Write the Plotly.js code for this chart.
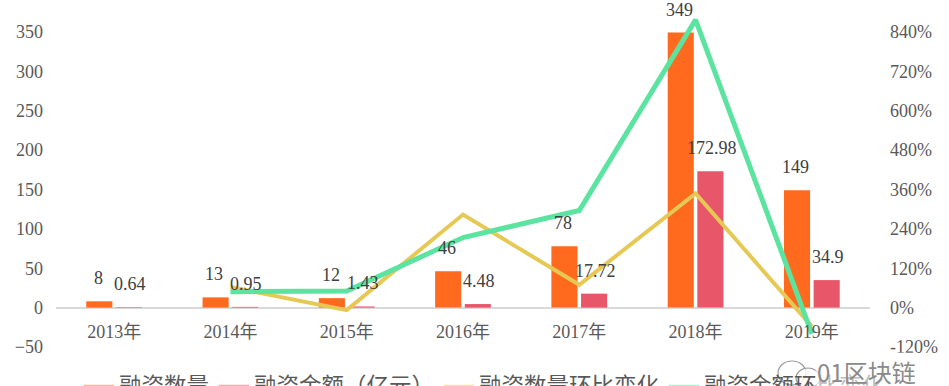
<!DOCTYPE html>
<html>
<head>
<meta charset="utf-8">
<script src="https://cdn.plot.ly/plotly-3.0.1.min.js"></script>
<style>html,body{margin:0;padding:0;background:#fff;}#chart{width:949px;height:386px;}</style>
</head>
<body>
<div id="chart"></div>
<script>
const years = ['2013年','2014年','2015年','2016年','2017年','2018年','2019年'];
const dealCount = [8, 13, 12, 46, 78, 349, 149];
const dealAmount = [0.64, 0.95, 1.43, 4.48, 17.72, 172.98, 34.9];
const changeYears = ['2014年','2015年','2016年','2017年','2018年','2019年'];
const countChange = [62.5, -7.69, 283.33, 69.57, 347.44, -57.31];
const amountChange = [48.44, 50.53, 213.29, 295.54, 876.19, -79.82];
const leftTicks = [-50, 0, 50, 100, 150, 200, 250, 300, 350];
const rightTicks = [-120, 0, 120, 240, 360, 480, 600, 720, 840];
const rightTickText = ['-120%', '0%', '120%', '240%', '360%', '480%', '600%', '720%', '840%'];

const names = ['融资数量', '融资金额（亿元）', '融资数量环比变化', '融资金额环比变化'];
const colors = ['#FF6A1E', '#E8566A', '#E6C955', '#5BE3A0'];
const FONT = '"Liberation Serif", "DejaVu Serif", "Noto Sans CJK SC", serif';
const CJK = '"Noto Sans CJK SC", sans-serif';

const W = 949, H = 386, ML = 56, MR = 79, MT = 0, MB = 39;
const plotW = W - ML - MR, plotH = H - MT - MB;
const px = x => (x - ML) / plotW;
const py = y => (H - MB - y) / plotH;

const traces = [
  {type: 'bar', x: years, y: dealCount, name: names[0], marker: {color: colors[0]}, showlegend: false},
  {type: 'bar', x: years, y: dealAmount, name: names[1], marker: {color: colors[1]}, showlegend: false},
  {type: 'scatter', mode: 'lines', x: changeYears, y: countChange, name: names[2], yaxis: 'y2',
   line: {color: colors[2], width: 4}, showlegend: false},
  {type: 'scatter', mode: 'lines', x: changeYears, y: amountChange, name: names[3], yaxis: 'y2',
   line: {color: colors[3], width: 5}, showlegend: false}
];
// legend entries (line style as in the reference)
names.forEach((n, i) => traces.push({type: 'scatter', mode: 'lines', x: [null], y: [null], name: n,
  line: {color: colors[i], width: 2}, opacity: 0.5, showlegend: true, legendrank: i + 1}));

const annotations = [];
years.forEach((yr, i) => {
  annotations.push({x: yr, y: dealCount[i], xref: 'x', yref: 'y', text: String(dealCount[i]),
    showarrow: false, yanchor: 'bottom', xshift: -16, yshift: 11,
    font: {family: FONT, size: 18, color: '#404040'}});
  annotations.push({x: yr, y: dealAmount[i], xref: 'x', yref: 'y', text: String(dealAmount[i]),
    showarrow: false, yanchor: 'bottom', xshift: 16, yshift: 11,
    font: {family: FONT, size: 18, color: '#404040'}});
});
annotations.push({xref: 'paper', yref: 'paper', x: px(918), y: py(371), text: '01区块链',
  showarrow: false, xanchor: 'right', yanchor: 'middle', bgcolor: 'rgba(255,255,255,0.6)',
  font: {family: CJK, size: 24, color: '#8a8a8a'}});

const shapes = [
  {type: 'circle', xref: 'paper', yref: 'paper', x0: px(778), x1: px(806), y0: py(385), y1: py(361),
   line: {color: '#9a9a9a', width: 1.2}, fillcolor: 'rgba(255,255,255,0.8)', layer: 'above'},
  {type: 'circle', xref: 'paper', yref: 'paper', x0: px(796), x1: px(820), y0: py(388), y1: py(368),
   line: {color: '#9a9a9a', width: 1.2}, fillcolor: 'rgba(255,255,255,0.8)', layer: 'above'}
];

const layout = {
  width: W, height: H,
  margin: {l: ML, r: MR, t: MT, b: MB, autoexpand: false},
  paper_bgcolor: '#fff', plot_bgcolor: '#fff',
  barmode: 'group', bargap: 0.49, bargroupgap: 0.12,
  font: {family: FONT, size: 18, color: '#595959'},
  xaxis: {type: 'category', range: [-0.5, 6.5], anchor: 'free', position: 39.4 / plotH,
    showline: false, showgrid: false, zeroline: false, ticks: '', ticklabelstandoff: 11,
    tickfont: {family: FONT, size: 18, color: '#595959'}, fixedrange: true},
  yaxis: {range: [-50, -50 + plotH * 50 / 39.4], tickvals: leftTicks, showgrid: false,
    zeroline: true, zerolinecolor: '#d9d9d9', zerolinewidth: 2, showline: false, ticks: '',
    ticklabelstandoff: 12, tickfont: {family: FONT, size: 18, color: '#595959'}},
  yaxis2: {overlaying: 'y', side: 'right', range: [-120, -120 + plotH * 120 / 39.4],
    tickmode: 'array', tickvals: rightTicks, ticktext: rightTickText,
    showgrid: false, zeroline: false, showline: false, ticks: '',
    ticklabelstandoff: 19, tickfont: {family: FONT, size: 18, color: '#595959'}},
  showlegend: true,
  legend: {orientation: 'h', xref: 'container', yref: 'container', x: 79 / W, y: -2 / H, xanchor: 'left', yanchor: 'middle',
    font: {family: CJK, size: 22.5, color: '#595959'}, bgcolor: 'rgba(0,0,0,0)',
    traceorder: 'normal', itemwidth: 30},
  annotations: annotations,
  shapes: shapes
};

Plotly.newPlot('chart', traces, layout, {displayModeBar: false, staticPlot: true});
</script>
</body>
</html>
